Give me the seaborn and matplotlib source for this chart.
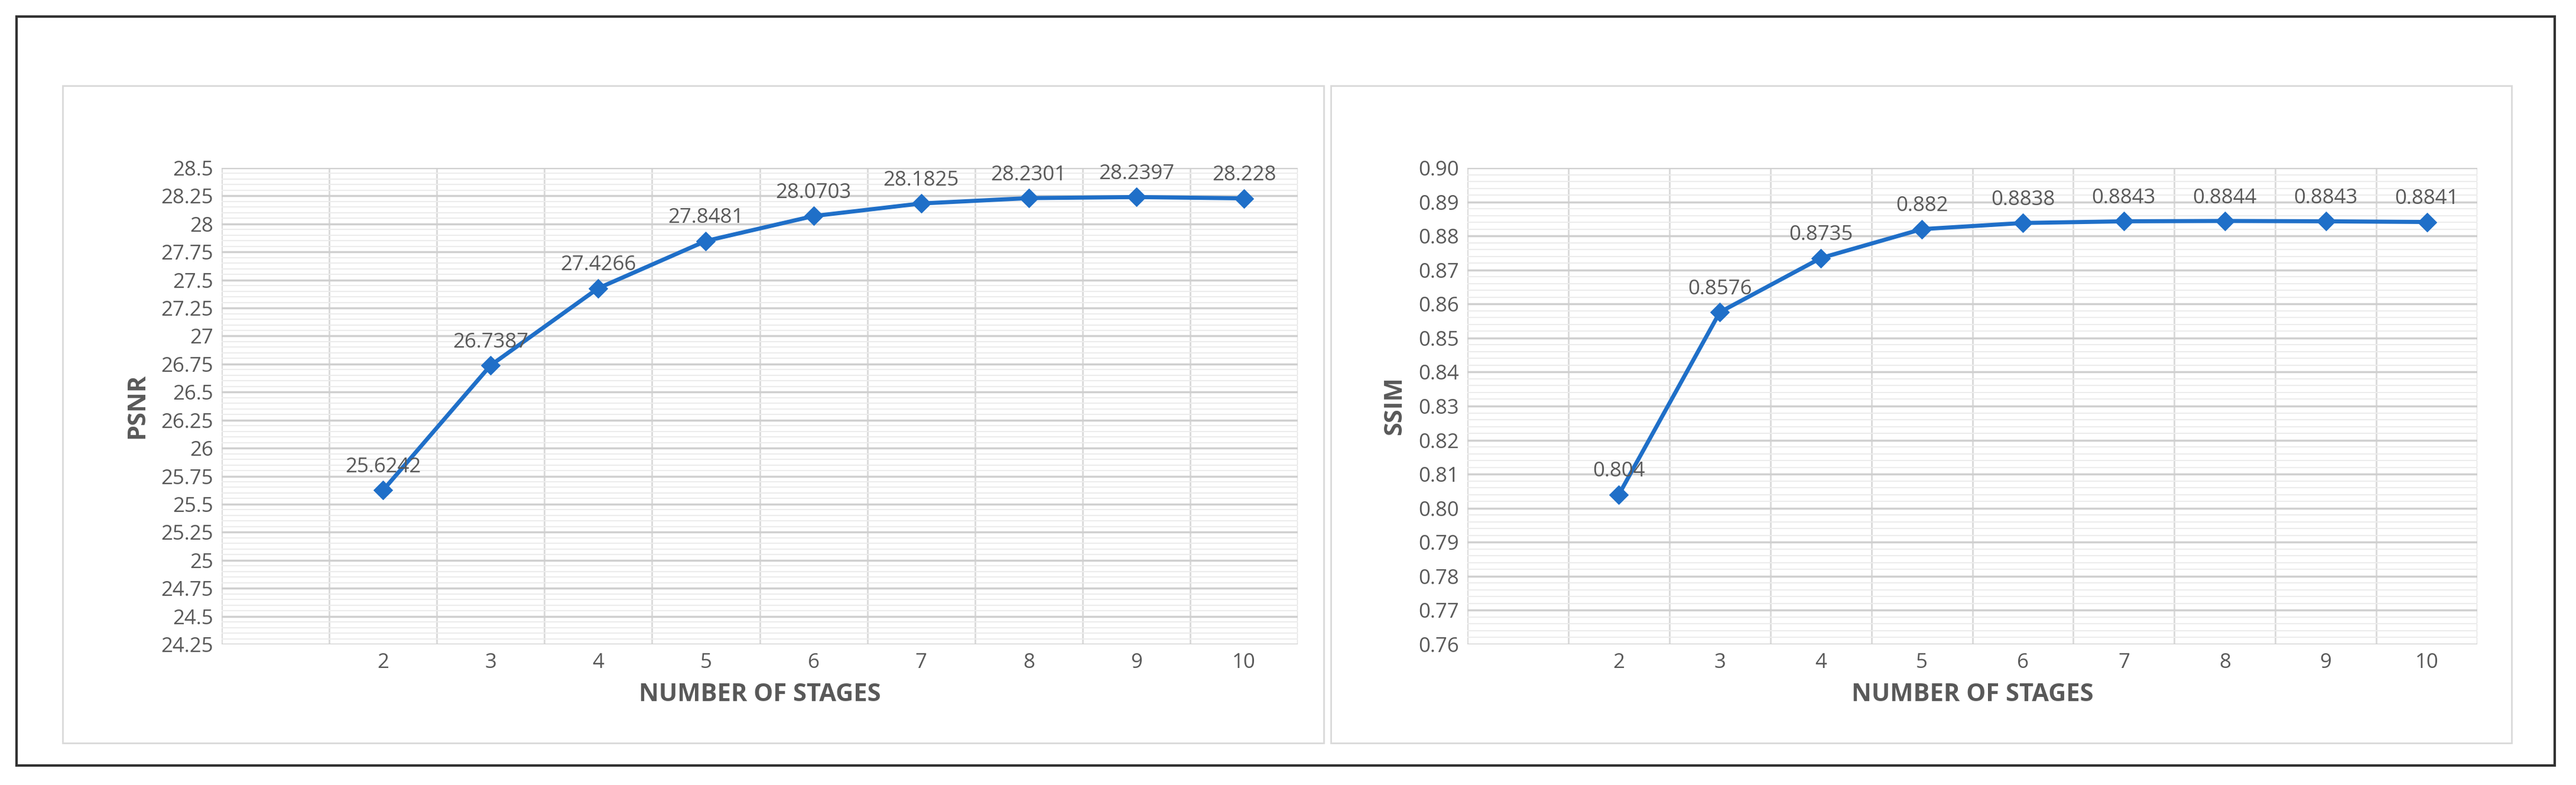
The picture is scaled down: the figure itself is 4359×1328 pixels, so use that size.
import numpy as np
import pandas as pd
import matplotlib
matplotlib.use("Agg")
import matplotlib.pyplot as plt
import seaborn as sns
from matplotlib.patches import Rectangle
from matplotlib.ticker import MultipleLocator, FixedLocator

# --- DATA ---
stages = [2, 3, 4, 5, 6, 7, 8, 9, 10]
psnr = [25.6242, 26.7387, 27.4266, 27.8481, 28.0703, 28.1825, 28.2301, 28.2397, 28.228]
ssim = [0.804, 0.8576, 0.8735, 0.882, 0.8838, 0.8843, 0.8844, 0.8843, 0.8841]
psnr_labels = ["25.6242", "26.7387", "27.4266", "27.8481", "28.0703", "28.1825", "28.2301", "28.2397", "28.228"]
ssim_labels = ["0.804", "0.8576", "0.8735", "0.882", "0.8838", "0.8843", "0.8844", "0.8843", "0.8841"]

sns.set_style("white")
plt.rcParams['font.family'] = ['Open Sans', 'DejaVu Sans']
BLUE = "#1F6FC8"
GREY = "#595959"
W, H = 4359, 1328

fig = plt.figure(figsize=(43.59, 13.28), dpi=100)

# outer frame and panel frames
fig.patches.append(Rectangle((28/W, 1 - 1295/H), 4295/W, 1267/H, transform=fig.transFigure,
                             fill=False, edgecolor="#333333", linewidth=3))
for x0, x1 in [(106, 2240), (2252, 4250)]:
    fig.patches.append(Rectangle((x0/W, 1 - 1257/H), (x1 - x0)/W, (1257 - 145)/H,
                                 transform=fig.transFigure, fill=False, edgecolor="#d9d9d9", linewidth=2))


def panel(rect, y, labels, ylabel, ylim, major, minor, fmt, offset):
    ax = fig.add_axes(rect)
    df = pd.DataFrame({"stage": stages, "val": y})
    sns.lineplot(data=df, x="stage", y="val", ax=ax, color=BLUE, linewidth=5,
                 marker="D", markersize=16, markeredgecolor=BLUE)
    ax.set_xlim(0.5, 10.5)
    ax.set_ylim(*ylim)
    ax.xaxis.set_major_locator(FixedLocator(stages))
    ax.xaxis.set_minor_locator(MultipleLocator(1, offset=0.5))
    ax.yaxis.set_major_locator(MultipleLocator(major))
    ax.yaxis.set_minor_locator(MultipleLocator(minor))
    ax.yaxis.set_major_formatter(fmt)
    ax.grid(False)
    ax.grid(which="minor", axis="x", color="#d9d9d9", linewidth=2)
    ax.grid(which="major", axis="y", color="#d0d0d0", linewidth=2.5)
    ax.grid(which="minor", axis="y", color="#ececec", linewidth=1.5)
    ax.set_axisbelow(True)
    for s in ax.spines.values():
        s.set_visible(False)
    ax.tick_params(which="both", length=0, labelsize=25, labelcolor=GREY, pad=10)
    for xi, yi, t in zip(stages, y, labels):
        ax.annotate(t, (xi, yi), xytext=(0, offset), textcoords="offset points",
                    ha="center", va="bottom", fontsize=25, color=GREY)
    ax.set_xlabel("NUMBER OF STAGES", fontsize=30, fontweight="bold", color=GREY, labelpad=12)
    ax.set_ylabel(ylabel, fontsize=30, fontweight="bold", color=GREY, labelpad=14)
    return ax


panel([375/W, 1 - 1090/H, (2196 - 375)/W, (1090 - 284)/H], psnr, psnr_labels, "PSNR",
      (24.25, 28.5), 0.25, 0.05, lambda v, p: f"{v:g}", 16)
panel([2483/W, 1 - 1090/H, (4192 - 2483)/W, (1090 - 284)/H], ssim, ssim_labels, "SSIM",
      (0.76, 0.90), 0.01, 0.002, lambda v, p: f"{v:.2f}", 16)

fig.savefig("out.png", dpi=100)
